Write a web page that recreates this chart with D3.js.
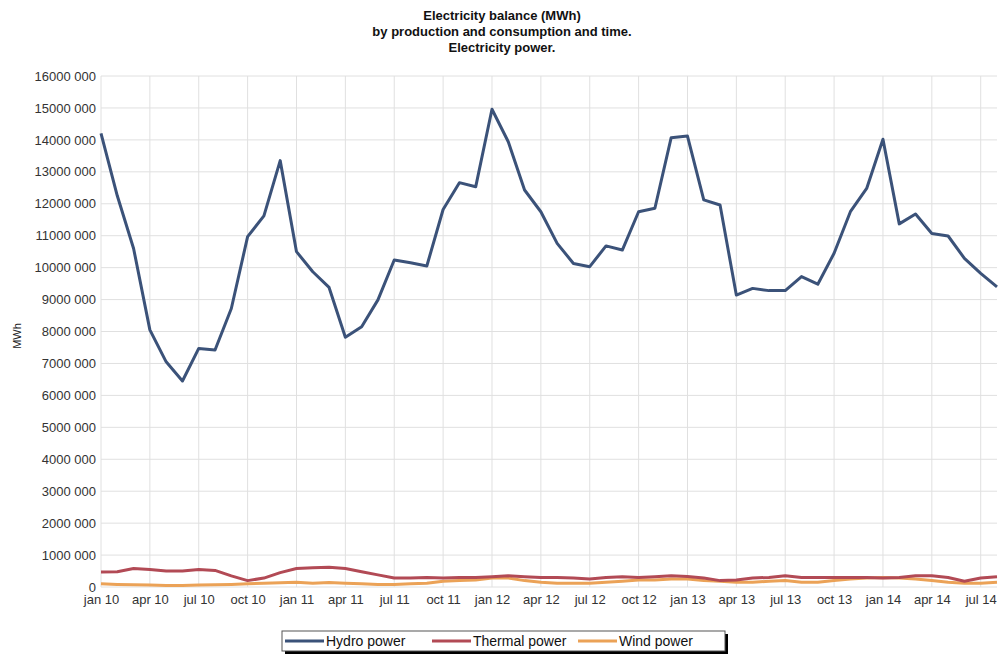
<!DOCTYPE html>
<html>
<head>
<meta charset="utf-8">
<script src="https://cdn.jsdelivr.net/npm/d3@7"></script>
<style>
	body { margin: 0; background: #fff; }
	text { font-family: "Liberation Sans", Arial, sans-serif; }
</style>
</head>
<body>
<div id="chart"></div>
<script>
// monthly labels jan 10 .. aug 14
var monthNames = ["jan", "feb", "mar", "apr", "may", "jun", "jul", "aug", "sep", "oct", "nov", "dec"];
var months = [];
for (var yr = 10; yr <= 14; yr++) {
	for (var m = 0; m < 12; m++) {
		if (yr === 14 && m > 7) break;
		months.push(monthNames[m] + " " + yr);
	}
}

var titleLines = ["Electricity balance (MWh)", "by production and consumption and time.", "Electricity power."];
var yTicks = [0, 1e6, 2e6, 3e6, 4e6, 5e6, 6e6, 7e6, 8e6, 9e6, 10e6, 11e6, 12e6, 13e6, 14e6, 15e6, 16e6];

// values in MWh (read in millions)
var hydro = [
	14.2, 12.25, 10.6, 8.05, 7.05, 6.45, 7.47, 7.42, 8.72, 10.97, 11.62, 13.35,
	10.5, 9.87, 9.38, 7.82, 8.15, 8.99, 10.24, 10.15, 10.05, 11.82, 12.66, 12.53,
	14.96, 13.94, 12.43, 11.75, 10.76, 10.13, 10.03, 10.68, 10.55, 11.75, 11.86, 14.07,
	14.12, 12.12, 11.96, 9.14, 9.35, 9.28, 9.28, 9.72, 9.48, 10.45, 11.75, 12.48,
	14.02, 11.37, 11.68, 11.07, 10.99, 10.29, 9.82, 9.40
].map(d => d * 1e6);

var thermal = [
	0.47, 0.48, 0.58, 0.55, 0.5, 0.5, 0.55, 0.52, 0.35, 0.2, 0.28, 0.45,
	0.58, 0.6, 0.62, 0.58, 0.48, 0.38, 0.28, 0.28, 0.3, 0.28, 0.3, 0.3,
	0.32, 0.35, 0.32, 0.3, 0.3, 0.28, 0.25, 0.3, 0.32, 0.3, 0.32, 0.35,
	0.33, 0.28, 0.2, 0.22, 0.28, 0.3, 0.35, 0.3, 0.3, 0.3, 0.3, 0.3,
	0.28, 0.3, 0.35, 0.35, 0.3, 0.18, 0.28, 0.32
].map(d => d * 1e6);

var wind = [
	0.1, 0.08, 0.07, 0.06, 0.05, 0.05, 0.06, 0.07, 0.08, 0.1, 0.12, 0.13,
	0.15, 0.12, 0.14, 0.12, 0.1, 0.08, 0.08, 0.1, 0.12, 0.18, 0.2, 0.22,
	0.28, 0.28, 0.2, 0.15, 0.12, 0.12, 0.12, 0.15, 0.18, 0.22, 0.22, 0.25,
	0.25, 0.2, 0.18, 0.15, 0.15, 0.18, 0.2, 0.15, 0.15, 0.2, 0.25, 0.28,
	0.3, 0.28, 0.25, 0.2, 0.15, 0.12, 0.12, 0.15
].map(d => d * 1e6);

var series = [
	{ name: "Hydro power", values: hydro, color: "#3b5279" },
	{ name: "Thermal power", values: thermal, color: "#b24a55" },
	{ name: "Wind power", values: wind, color: "#eba257" }
];

var svgWidth = 999;
var svgHeight = 654;

var svg = d3.select("#chart")
	.append("svg")
	.attr("width", svgWidth)
	.attr("height", svgHeight);

var x = d3.scaleLinear()
	.domain([0, months.length - 1])
	.range([101, 997]);

var y = d3.scaleLinear()
	.domain([0, 16e6])
	.range([587, 76]);

// title
svg.append("g").selectAll("text")
	.data(titleLines)
	.enter()
	.append("text")
	.attr("x", 502)
	.attr("y", (d, i) => 20 + i * 16)
	.attr("text-anchor", "middle")
	.attr("font-size", 13)
	.attr("font-weight", "bold")
	.attr("fill", "#111")
	.text(d => d);

// grid lines
var xTickIdx = d3.range(0, months.length, 3);

svg.append("g").selectAll("line")
	.data(yTicks)
	.enter()
	.append("line")
	.attr("x1", x(0))
	.attr("x2", x(months.length - 1))
	.attr("y1", d => y(d))
	.attr("y2", d => y(d))
	.attr("stroke", "#e0e0e0")
	.attr("stroke-width", 1);

svg.append("g").selectAll("line")
	.data(xTickIdx)
	.enter()
	.append("line")
	.attr("x1", d => x(d))
	.attr("x2", d => x(d))
	.attr("y1", y(16e6))
	.attr("y2", y(0))
	.attr("stroke", "#e0e0e0")
	.attr("stroke-width", 1);

// y axis
var fmt = v => v === 0 ? "0" : (v / 1000) + " 000";
var leftAxis = d3.axisLeft(y)
	.tickValues(yTicks)
	.tickSize(0)
	.tickPadding(4)
	.tickFormat(fmt);

var yAxis = svg.append("g")
	.attr("transform", `translate(${x(0) - 1}, 0)`)
	.call(leftAxis);
yAxis.select(".domain").remove();
yAxis.selectAll("text")
	.attr("font-size", 13)
	.attr("fill", "#333")
	.style("font-family", "Liberation Sans, Arial, sans-serif");

// x axis
var bottomAxis = d3.axisBottom(x)
	.tickValues(xTickIdx)
	.tickSize(0)
	.tickPadding(8)
	.tickFormat(i => months[i]);

var xAxis = svg.append("g")
	.attr("transform", `translate(0, ${y(0)})`)
	.call(bottomAxis);
xAxis.select(".domain").remove();
xAxis.selectAll("text")
	.attr("font-size", 13)
	.attr("fill", "#333")
	.style("font-family", "Liberation Sans, Arial, sans-serif");

// y label
svg.append("text")
	.attr("transform", "translate(21, 336) rotate(-90)")
	.attr("text-anchor", "middle")
	.attr("font-size", 11)
	.attr("fill", "#222")
	.text("MWh");

// lines
var line = d3.line()
	.x((d, i) => x(i))
	.y(d => y(d));

svg.append("g").selectAll("path")
	.data(series.slice().reverse())
	.enter()
	.append("path")
	.attr("d", d => line(d.values))
	.attr("fill", "none")
	.attr("stroke", d => d.color)
	.attr("stroke-width", 3)
	.attr("stroke-linejoin", "round");

// legend with shadow
var legend = svg.append("g");
legend.append("rect")
	.attr("x", 285)
	.attr("y", 634)
	.attr("width", 443)
	.attr("height", 20)
	.attr("fill", "#000");
legend.append("rect")
	.attr("x", 282)
	.attr("y", 631)
	.attr("width", 443)
	.attr("height", 20)
	.attr("fill", "#fff")
	.attr("stroke", "#555")
	.attr("stroke-width", 1);

var legendX = [285, 432, 578];
var items = legend.selectAll("g.item")
	.data(series)
	.enter()
	.append("g")
	.attr("class", "item")
	.attr("transform", (d, i) => `translate(${legendX[i]}, 641)`);

items.append("line")
	.attr("x1", 0)
	.attr("x2", 39)
	.attr("stroke", d => d.color)
	.attr("stroke-width", 3);

items.append("text")
	.attr("x", 41)
	.attr("y", 5)
	.attr("font-size", 14)
	.attr("fill", "#111")
	.text(d => d.name);
</script>
</body>
</html>
